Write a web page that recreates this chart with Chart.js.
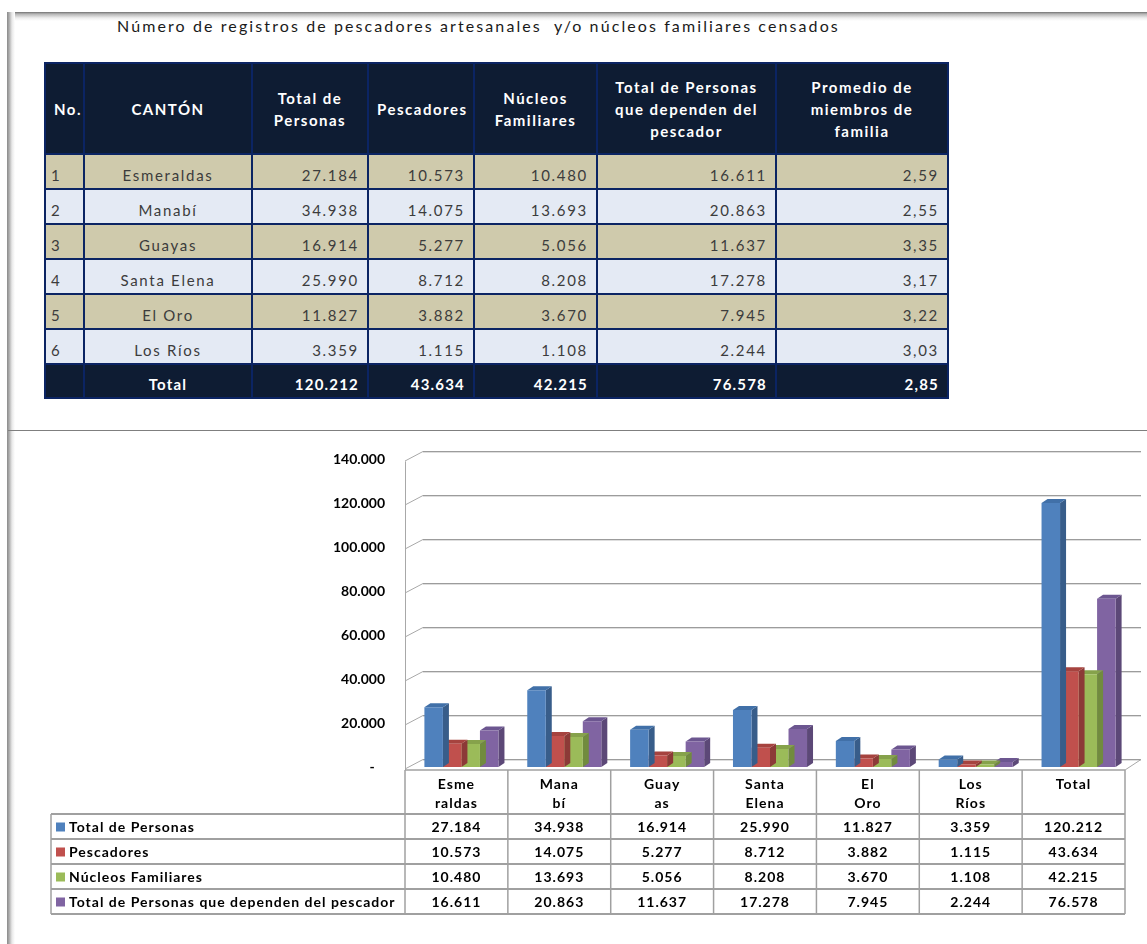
<!DOCTYPE html>
<html>
<head>
<meta charset="utf-8">
<script src="https://cdn.jsdelivr.net/npm/chart.js@4.4.0/dist/chart.umd.min.js"></script>
<style>
  body { margin:0; background:#fff; width:1147px; height:944px; overflow:hidden; position:relative; font-family: Lato, "Noto Sans", sans-serif; }
  #frameTop { position:absolute; left:8px; top:12px; width:1139px; height:9px; background:linear-gradient(#707070, #b5b5b5 2px, #eeeeee 6px, #fff); }
  #frameLeft { position:absolute; left:7px; top:12px; width:8px; height:932px; background:linear-gradient(to right, #8a8a8a, #a9a9a9 2px, #e9e9e9 5px, #fff); }
  #sep { position:absolute; left:8px; top:430px; width:1139px; height:1px; background:#7f7f7f; }
  #title { position:absolute; left:117px; top:16px; font-size:16px; letter-spacing:2.1px; color:#1a1a1a; white-space:pre; }
  table.censo { position:absolute; left:44px; top:62px; border-collapse:collapse; table-layout:fixed; width:903px; }
  .censo td, .censo th { border:2px solid #0b2463; padding:0 8px; font-size:15px; letter-spacing:1.7px; color:#3c3c3c; white-space:nowrap; }
  .censo th { background:#0e1c33; color:#fff; font-weight:bold; line-height:22px; letter-spacing:1.5px; }
  .censo td { vertical-align:bottom; padding-bottom:4px; }
  .censo tr.tan td { background:#cfcaac; }
  .censo tr.blue td { background:#e4eaf4; }
  .censo tr.tot td { background:#0e1c33; color:#fff; font-weight:bold; letter-spacing:1.2px; }
  .censo .l { text-align:left; padding-left:5px; }
  .censo .c { text-align:center; }
  .censo .r { text-align:right; }
  #wrap { position:absolute; left:0; top:431px; width:1147px; height:513px; }
</style>
</head>
<body>
<div id="frameTop"></div>
<div id="frameLeft"></div>
<div id="title">Número de registros de pescadores artesanales  y/o núcleos familiares censados</div>
<table class="censo" id="censo">
  <colgroup>
    <col style="width:39px"><col style="width:168px"><col style="width:116px"><col style="width:106px">
    <col style="width:123px"><col style="width:179px"><col style="width:172px">
  </colgroup>
  <tbody></tbody>
</table>
<div id="sep"></div>
<div id="wrap"><canvas id="grafico" width="1147" height="513"></canvas></div>

<script>
// datos del censo
const cantones = ['Esmeraldas', 'Manabí', 'Guayas', 'Santa Elena', 'El Oro', 'Los Ríos', 'Total'];
const etiquetasEje = [['Esme', 'raldas'], ['Mana', 'bí'], ['Guay', 'as'], ['Santa', 'Elena'], ['El', 'Oro'], ['Los', 'Ríos'], ['Total']];
const totalPersonas = [27184, 34938, 16914, 25990, 11827, 3359, 120212];
const pescadores = [10573, 14075, 5277, 8712, 3882, 1115, 43634];
const nucleos = [10480, 13693, 5056, 8208, 3670, 1108, 42215];
const dependen = [16611, 20863, 11637, 17278, 7945, 2244, 76578];
const promedio = ['2,59', '2,55', '3,35', '3,17', '3,22', '3,03', '2,85'];
const encabezados = ['No.', 'CANTÓN', 'Total de<br>Personas', 'Pescadores', 'Núcleos<br>Familiares',
                     'Total de Personas<br>que dependen del<br>pescador', 'Promedio de<br>miembros de<br>familia'];
const series = ['Total de Personas', 'Pescadores', 'Núcleos Familiares', 'Total de Personas que dependen del pescador'];
const yMax = 140000;
const yStep = 20000;

const frente = ['#4f81bd', '#c0504d', '#9bbb59', '#8064a2'];
const lado = ['#385d8a', '#8c3a37', '#718b3e', '#5c4877'];
const techo = ['#4170a8', '#a6433f', '#86a24b', '#6c5690'];

const fmt = v => String(v).replace(/\B(?=(\d{3})+(?!\d))/g, '.');

// tabla superior
let html = '<tr style="height:91px">' + encabezados.map(h => `<th>${h}</th>`).join('') + '</tr>';
cantones.forEach((c, i) => {
  const last = i === cantones.length - 1;
  const cls = last ? 'tot' : (i % 2 === 0 ? 'tan' : 'blue');
  html += `<tr class="${cls}" style="height:${last ? 34 : 35}px">
    <td class="l">${last ? '' : i + 1}</td><td class="c">${c}</td>
    <td class="r">${fmt(totalPersonas[i])}</td><td class="r">${fmt(pescadores[i])}</td>
    <td class="r">${fmt(nucleos[i])}</td><td class="r">${fmt(dependen[i])}</td>
    <td class="r">${promedio[i]}</td></tr>`;
});
document.querySelector('#censo tbody').innerHTML = html;

const pared = {dx: 18, dy: 8};
const prof = {dx: 6, dy: 4};
const corrimiento = 5; // las barras 3D quedan algo a la derecha del centro

function linea(ctx, x1, y1, x2, y2) {
  ctx.beginPath(); ctx.moveTo(x1, y1); ctx.lineTo(x2, y2); ctx.stroke();
}

const efecto3d = {
  id: 'efecto3d',
  beforeDatasetsDraw(chart) {
    const {ctx, chartArea: a, scales: {y}} = chart;
    ctx.save();
    ctx.lineWidth = 1;
    y.ticks.forEach(t => {
      const yf = Math.round(y.getPixelForValue(t.value));
      const yb = yf - pared.dy;
      ctx.strokeStyle = '#dedede';
      linea(ctx, a.left + pared.dx, yb + 1.5, a.right + pared.dx - 2, yb + 1.5);
      ctx.strokeStyle = '#9c9c9c';
      linea(ctx, a.left + pared.dx, yb + 0.5, a.right + pared.dx - 2, yb + 0.5);
      ctx.strokeStyle = '#a8a8a8';
      linea(ctx, a.left, yf + 2, a.left + pared.dx, yb + 0.5);
    });
    ctx.strokeStyle = '#a8a8a8';
    linea(ctx, a.left + 0.5, y.getPixelForValue(yMax) + 2, a.left + 0.5, a.bottom + 3);
    linea(ctx, a.right, a.bottom + 3, a.right + pared.dx - 2, y.getPixelForValue(0) - pared.dy + 0.5);
    ctx.restore();
  },
  beforeDatasetDraw(chart, args) {
    const ctx = chart.ctx;
    const i = args.index;
    ctx.save();
    ctx.translate(corrimiento, 0);
    args.meta.data.forEach(b => {
      const r = b.x + b.width / 2, l = b.x - b.width / 2;
      ctx.fillStyle = lado[i];
      ctx.beginPath();
      ctx.moveTo(r, b.y); ctx.lineTo(r + prof.dx, b.y - prof.dy);
      ctx.lineTo(r + prof.dx, b.base - prof.dy); ctx.lineTo(r, b.base); ctx.closePath(); ctx.fill();
      ctx.fillStyle = techo[i];
      ctx.beginPath();
      ctx.moveTo(l, b.y); ctx.lineTo(l + prof.dx, b.y - prof.dy);
      ctx.lineTo(r + prof.dx, b.y - prof.dy); ctx.lineTo(r, b.y); ctx.closePath(); ctx.fill();
    });
  },
  afterDatasetDraw(chart) {
    chart.ctx.restore();
  },
  afterDraw(chart) {
    // tabla de datos bajo el grafico
    const {ctx, chartArea: a, scales: {x}} = chart;
    const n = etiquetasEje.length;
    const colW = (a.right - a.left) / n;
    const top = a.bottom + 3, headH = 44, rowH = 25, left = 51;
    const bottom = top + headH + rowH * series.length;
    ctx.save();
    ctx.letterSpacing = '1px';
    ctx.fillStyle = '#000';
    ctx.textAlign = 'center';
    ctx.textBaseline = 'middle';
    ctx.font = 'bold 14px Lato';
    etiquetasEje.forEach((ls, i) => {
      const cx = x.getPixelForValue(i);
      ls.forEach((s, k) => ctx.fillText(s, cx, top + 14 + k * 19));
    });
    const datos = [totalPersonas, pescadores, nucleos, dependen];
    datos.forEach((d, s) => {
      const cy = top + headH + rowH * s + rowH / 2 + 1;
      d.forEach((v, i) => ctx.fillText(fmt(v), x.getPixelForValue(i), cy));
      ctx.fillStyle = frente[s];
      ctx.fillRect(56, cy - 5, 9, 9);
      ctx.fillStyle = '#000';
      ctx.textAlign = 'left';
      ctx.fillText(series[s], 69, cy);
      ctx.textAlign = 'center';
    });
    // bordes
    ctx.strokeStyle = '#a0a0a0';
    ctx.lineWidth = 1.5;
    for (let i = 0; i <= n; i++) {
      const xx = a.left + colW * i;
      linea(ctx, xx, top, xx, bottom);
    }
    linea(ctx, a.left, top, a.right, top);
    linea(ctx, left, top + headH, left, bottom);
    ctx.lineWidth = 2;
    for (let s = 0; s <= series.length; s++) {
      const yy = top + headH + rowH * s;
      linea(ctx, left, yy, a.right, yy);
    }
    ctx.restore();
  }
};

new Chart(document.getElementById('grafico'), {
  type: 'bar',
  data: {
    labels: cantones,
    datasets: series.map((s, k) => ({
      label: s,
      data: [totalPersonas, pescadores, nucleos, dependen][k],
      backgroundColor: frente[k],
      categoryPercentage: 0.72,
      barPercentage: 1
    }))
  },
  options: {
    responsive: false,
    animation: false,
    devicePixelRatio: 1,
    events: [],
    layout: { padding: { top: 22, right: 22, bottom: 177, left: 0 } },
    plugins: { legend: { display: false }, tooltip: { enabled: false } },
    scales: {
      x: { display: false },
      y: {
        min: 0, max: yMax,
        afterFit: scale => { scale.width = 405; },
        grid: { display: false, drawTicks: false },
        border: { display: false },
        ticks: {
          stepSize: yStep,
          padding: 20,
          color: '#000',
          font: { family: 'Lato', size: 14, weight: 'bold' },
          callback: v => v === 0 ? '-   ' : fmt(v)
        }
      }
    }
  },
  plugins: [efecto3d]
});
</script>
</body>
</html>
